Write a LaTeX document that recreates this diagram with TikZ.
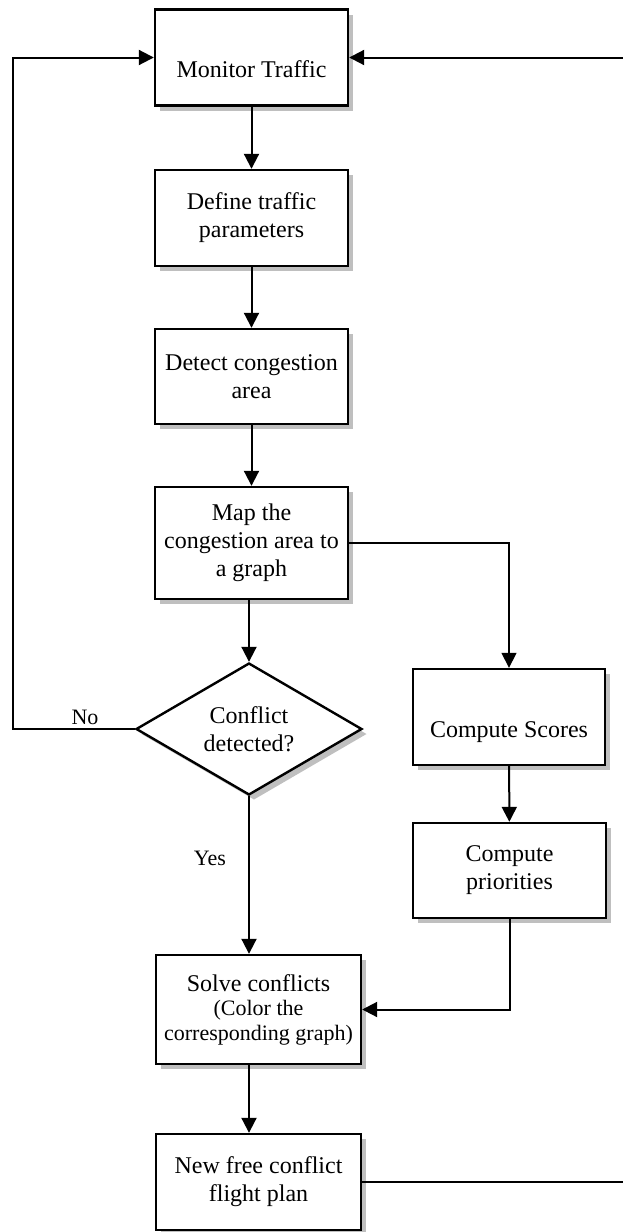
\documentclass[tikz,border=0pt]{standalone}
\usepackage{fontspec}
\setmainfont{Liberation Serif}
\usetikzlibrary{arrows.meta,shapes.geometric,shadows}
\newcommand{\notefont}{\fontsize{11}{12}\selectfont}

\begin{document}
\begin{tikzpicture}[x=0.5pt,y=-0.5pt,
  box/.style={draw,fill=white,line width=1.2pt,inner sep=0pt,align=center,
    minimum width=96.5pt,minimum height=48pt,font=\fontsize{12}{14}\selectfont,
    drop shadow={shadow xshift=2.5pt,shadow yshift=-2.5pt,fill=gray!50,opacity=1}},
  decision/.style={box,diamond,aspect=1.7,minimum width=113pt,minimum height=66pt},
  lowtext/.style={text height=23pt,text depth=3pt},
  flow/.style={line width=1pt,-{Triangle[length=7.5pt,width=7.5pt]}},
  lbl/.style={font=\notefont,inner sep=0pt}]
\useasboundingbox (0,0) rectangle (622,1232);
% left column
\node (monitor) at (251.5,57.5) [box,lowtext] {Monitor Traffic};
\node (define) at (251.5,218) [box] {Define traffic\\parameters};
\node (detect) at (251.5,376.5) [box,minimum height=47.5pt] {Detect congestion\\area};
\node (map) at (251.5,543) [box,minimum height=56pt] {Map the\\congestion area to\\a graph};
\node (conflict) at (249,729) [decision] {Conflict\\detected?};
\node (solve) at (258.5,1009.5) [box,minimum width=102.5pt,minimum height=54.5pt]
  {Solve conflicts\\[-2pt]{\notefont(Color the}\\[-1.5pt]{\notefont corresponding graph)}};
\node (newplan) at (258.5,1182) [box,minimum width=102.5pt] {New free conflict\\flight plan};
% right column
\node (scores) at (509,717) [box,lowtext,minimum width=96pt] {Compute Scores};
\node (priorities) at (509.5,870.5) [box,minimum height=47.5pt] {Compute\\priorities};
% labels
\node (nolbl) at (85,717) [lbl] {No};
\node (yeslbl) at (210,858) [lbl] {Yes};
% rails of the two loops
\coordinate (lrail) at (13,400);
\coordinate (rrail) at (627,600);
% connectors
\draw[flow] (monitor) -- (define);
\draw[flow] (define) -- (detect);
\draw[flow] (detect) -- (map);
\draw[flow] (map.south -| conflict.north) -- (conflict.north);
\draw[flow] (conflict.south) -- (conflict.south |- solve.north);
\draw[flow] (solve.south -| conflict.south) -- (newplan.north -| conflict.south);
\draw[flow,line width=0.8pt] (map.east) -| (scores.north);
\draw[flow] (scores) -- (priorities);
\draw[flow] (priorities.south) |- (solve.east);
\draw[flow] (conflict.west) -| (lrail) |- (monitor.west);
\draw[flow] (newplan.east) -| (rrail) |- (monitor.east);
\end{tikzpicture}
\end{document}
